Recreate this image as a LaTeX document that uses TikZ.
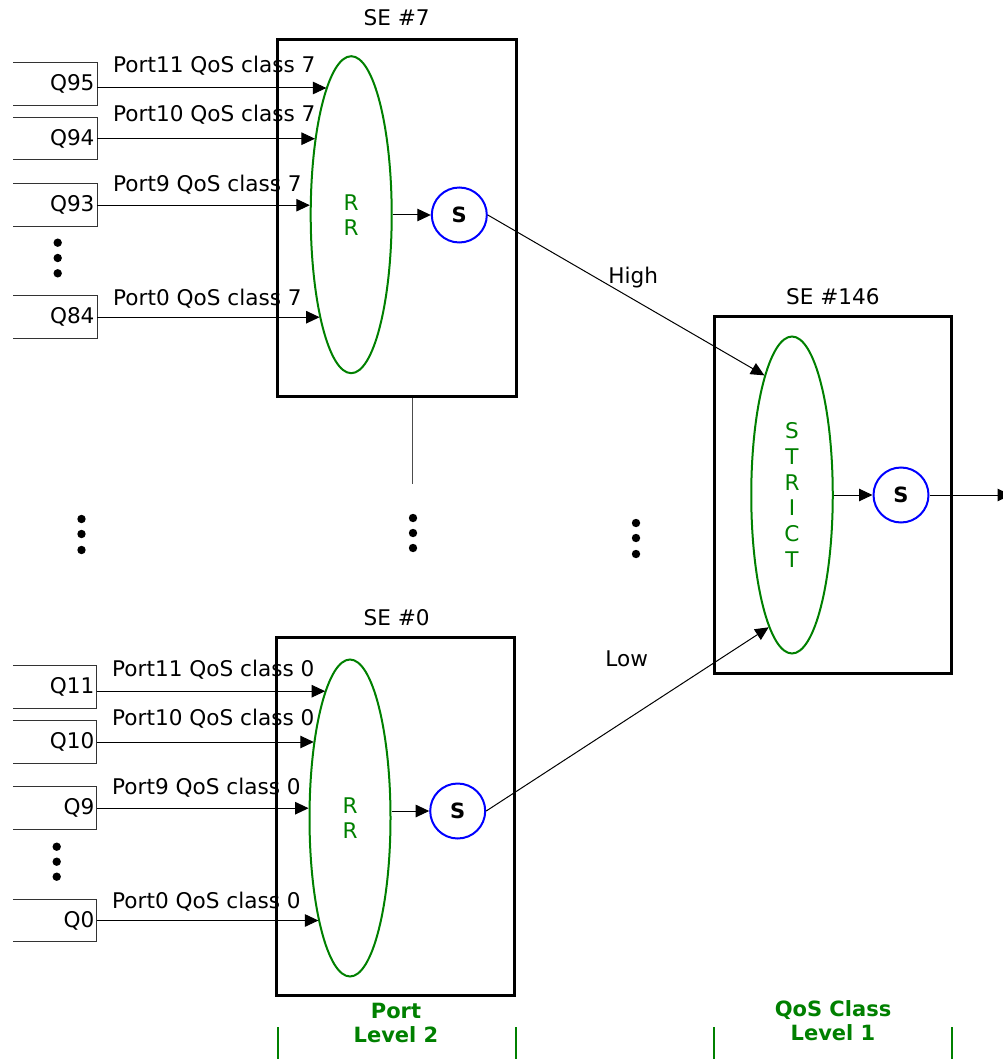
\documentclass[tikz,border=0pt]{standalone}
\usepackage{fontspec}
\setmainfont{DejaVu Sans}
\usetikzlibrary{arrows.meta,shapes.geometric}
\definecolor{ggreen}{HTML}{008000}
\begin{document}
\begin{tikzpicture}[x=1pt,y=-1pt,
  txt/.style={font=\fontsize{21.6}{25}\selectfont, inner sep=0pt},
  sebox/.style={draw, line width=3pt, inner sep=0pt},
  rrell/.style={ellipse, draw=ggreen, line width=2pt, text=ggreen, inner sep=0pt,
    minimum width=81pt, minimum height=317pt, align=center, font=\fontsize{21.6}{25}\selectfont},
  sched/.style={circle, draw=blue, line width=2pt, minimum size=55pt, inner sep=0pt,
    font=\bfseries\fontsize{21}{24}\selectfont},
  queue/.style={rectangle, outer sep=0pt, inner xsep=2.5pt, inner ysep=0pt, text width=79pt,
    align=right, minimum height=42.5pt, font=\fontsize{21.6}{25}\selectfont},
  qline/.style={line width=1pt, black!80},
  arr/.style={line width=1pt, -{Triangle[length=13.5pt,width=12.5pt]}},
  lvl/.style={text=ggreen, font=\bfseries\fontsize{21}{24}\selectfont, align=center, inner sep=0pt},
  lvlline/.style={draw=ggreen, line width=1.5pt}
]
\useasboundingbox (0,0) rectangle (1002,1059);

% ---------------- SE #7 ----------------
\node[sebox, minimum width=239pt, minimum height=357pt] (se7) at (396.7,218.3) {};
\node[txt, anchor=base] (t7) at (396.7,26) {SE \#7};
\node[rrell] (rr7) at (351.2,214.7) {R\\R};
\node[sched] (s7) at (459.3,215) {S};
\draw[arr] (s7.west -| rr7.east) -- (s7.west);

\node[queue] (q95) at (55,84) {Q95};
\node[queue] (q94) at (55,138.7) {Q94};
\node[queue] (q93) at (55,205.2) {Q93};
\node[queue] (q84) at (55,317.2) {Q84};
\foreach \q in {q95,q94,q93,q84}
  \draw[qline] (\q.north west) -- (\q.north east) -- (\q.south east) -- (\q.south west);
\coordinate (a95) at ([yshift=-4pt]q95.east);
\draw[arr] (a95) -- (a95 -| rr7.101);
\draw[arr] (q94.east) -- (q94.east -| rr7.115);
\draw[arr] (q93.east) -- (q93.east -| rr7.167);
\draw[arr] (q84.east) -- (q84.east -| rr7.253);

\node[txt, anchor=base west] (l95) at (113,73) {Port11 QoS class 7};
\node[txt, anchor=base west] (l94) at (113,121.7) {Port10 QoS class 7};
\node[txt, anchor=base west] (l93) at (113,191.7) {Port9 QoS class 7};
\node[txt, anchor=base west] (l84) at (113,305) {Port0 QoS class 7};

\foreach \yy in {242.7,258,273.3} \fill (57.7,\yy) circle (4.2pt);

% ---------------- SE #0 ----------------
\node[sebox, minimum width=238.3pt, minimum height=357.6pt] (se0) at (395.2,816.5) {};
\node[txt, anchor=base] (t0) at (396.7,625) {SE \#0};
\node[rrell] (rr0) at (350,818) {R\\R};
\node[sched] (s0) at (457.7,811) {S};
\draw[arr] (s0.west -| rr0.east) -- (s0.west);

\node[queue] (q11) at (54.8,687.2) {Q11};
\node[queue] (q10) at (54.8,742) {Q10};
\node[queue] (q9) at (54.8,808.2) {Q9};
\node[queue] (q0) at (54.8,920.5) {Q0};
\foreach \q in {q11,q10,q9,q0}
  \draw[qline] (\q.north west) -- (\q.north east) -- (\q.south east) -- (\q.south west);
\coordinate (a11) at ([yshift=-4pt]q11.east);
\draw[arr] (a11) -- (a11 -| rr0.101);
\draw[arr] (q10.east) -- (q10.east -| rr0.115);
\draw[arr] (q9.east) -- (q9.east -| rr0.166);
\draw[arr] (q0.east) -- (q0.east -| rr0.253);

\node[txt, anchor=base west] (l11) at (112,676) {Port11 QoS class 0};
\node[txt, anchor=base west] (l10) at (112,725) {Port10 QoS class 0};
\node[txt, anchor=base west] (l9) at (112,794.3) {Port9 QoS class 0};
\node[txt, anchor=base west] (l0) at (112,908.3) {Port0 QoS class 0};

\foreach \yy in {846.7,861.7,876.7} \fill (56.7,\yy) circle (4.2pt);

% ---------------- middle ----------------
\coordinate (vend) at (412.5,484);
\draw[line width=1pt, black!70] (se7.south -| vend) -- (vend);
\foreach \yy in {519,534,550} \fill (81.5,\yy) circle (4.2pt);
\foreach \yy in {518,533,548} \fill (413,\yy) circle (4.2pt);
\foreach \yy in {523,538,554} \fill (636,\yy) circle (4.2pt);

% ---------------- SE #146 ----------------
\node[sebox, minimum width=237.7pt, minimum height=356.6pt] (se146) at (832.9,495) {};
\node[txt, anchor=base] (t146) at (832.9,304.5) {SE \#146};
\node[rrell, minimum width=81.5pt, font=\fontsize{21.6}{25.7}\selectfont] (strict) at (792,495) {S\\T\\R\\I\\C\\T};
\node[sched] (s146) at (901,495) {S};
\draw[arr] (strict.east) -- (s146.west);
\coordinate (out) at (1011,495);
\draw[arr] (s146.east) -- (out);

\draw[arr] (s7.east) -- (strict.103);
\node[txt, anchor=base] (high) at (633.3,283.3) {High};
\draw[arr] (s0.east) -- (strict.260);
\node[txt, anchor=base] (low) at (626.7,666) {Low};

% ---------------- level labels ----------------
\node[lvl] (lv2) at (396,1022.5) {Port\\Level 2};
\node[lvl] (lv1) at (833,1021) {QoS Class\\Level 1};
\foreach \xx in {278,516,714,952} \draw[lvlline] (\xx,1027) -- (\xx,1060);
\end{tikzpicture}
\end{document}
